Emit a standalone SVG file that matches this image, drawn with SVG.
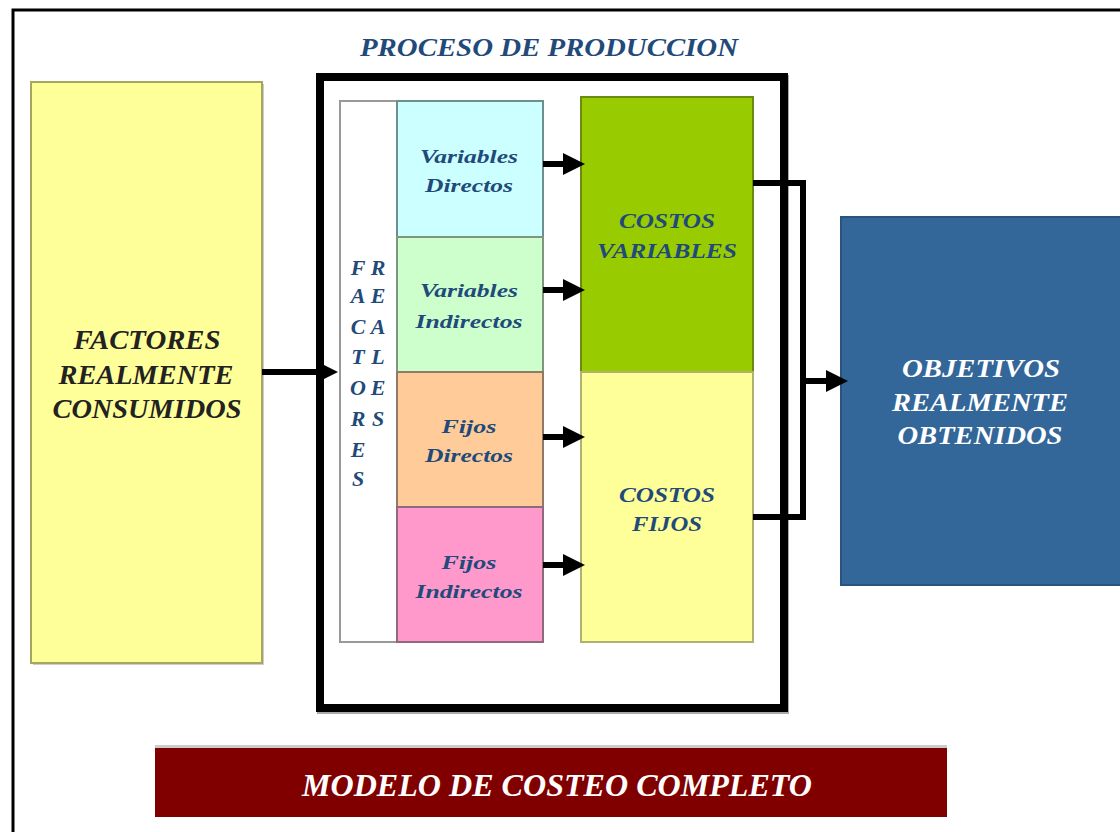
<svg xmlns="http://www.w3.org/2000/svg" width="1120" height="832" viewBox="0 0 1120 832">
<defs>
<style>
.t{font-family:"Liberation Serif","Times New Roman",serif;font-style:italic;font-weight:bold;text-anchor:middle}
.blue{fill:#1F4A7A}
.dark{fill:#222222}
.white{fill:#FFFFFF}
.conn{stroke:#000;stroke-width:6;fill:none}
.sm{font-size:19px}
.vl{font-size:22px}
</style>
<marker id="ah" markerUnits="userSpaceOnUse" markerWidth="24" markerHeight="24" refX="0" refY="11" orient="auto">
<path d="M0,0 L22,11 L0,22 z" fill="#000"/>
</marker>
</defs>
<rect x="0" y="0" width="1120" height="832" fill="#FFFFFF"/>
<g id="frame">
<path d="M13,832 V10 H1120" fill="none" stroke="#000" stroke-width="3"/>
</g>
<g id="title">
<text class="t blue" x="549" y="56" font-size="25" textLength="378" lengthAdjust="spacingAndGlyphs">PROCESO DE PRODUCCION</text>
</g>
<g id="factores-consumidos">
<rect x="33" y="84" width="231" height="581" fill="#CCCCCC"/>
<rect x="31" y="82" width="231" height="581" fill="#FFFF99" stroke="#A6A65C" stroke-width="2"/>
<text class="t dark" x="147" y="349" font-size="27" textLength="147" lengthAdjust="spacingAndGlyphs">FACTORES</text>
<text class="t dark" x="146" y="384" font-size="27" textLength="175" lengthAdjust="spacingAndGlyphs">REALMENTE</text>
<text class="t dark" x="147" y="418" font-size="27" textLength="189" lengthAdjust="spacingAndGlyphs">CONSUMIDOS</text>
</g>
<g id="proceso">
<rect x="321" y="79" width="464" height="631" fill="none" stroke="#AAAAAA" stroke-width="8"/>
<rect x="320" y="77" width="464" height="631" fill="#FFFFFF" stroke="#000" stroke-width="8"/>
</g>
<g id="factores-reales">
<rect x="340" y="101" width="57" height="541" fill="#FFFFFF" stroke="#999999" stroke-width="2"/>
<text class="t blue vl" x="358" y="275">F</text><text class="t blue vl" x="378" y="275">R</text>
<text class="t blue vl" x="358" y="303">A</text><text class="t blue vl" x="378" y="303">E</text>
<text class="t blue vl" x="358" y="334">C</text><text class="t blue vl" x="378" y="334">A</text>
<text class="t blue vl" x="358" y="364">T</text><text class="t blue vl" x="378" y="364">L</text>
<text class="t blue vl" x="358" y="395">O</text><text class="t blue vl" x="378" y="395">E</text>
<text class="t blue vl" x="358" y="426">R</text><text class="t blue vl" x="378" y="426">S</text>
<text class="t blue vl" x="358" y="457">E</text>
<text class="t blue vl" x="358" y="486">S</text>
</g>
<g id="variables-directos">
<rect x="397" y="101" width="146" height="136" fill="#CCFFFF" stroke="#6F8F8F" stroke-width="2"/>
<text class="t blue sm" x="469" y="163" textLength="98" lengthAdjust="spacingAndGlyphs">Variables</text>
<text class="t blue sm" x="469" y="192" textLength="88" lengthAdjust="spacingAndGlyphs">Directos</text>
</g>
<g id="variables-indirectos">
<rect x="397" y="237" width="146" height="135" fill="#CCFFCC" stroke="#7F957F" stroke-width="2"/>
<text class="t blue sm" x="469" y="297" textLength="98" lengthAdjust="spacingAndGlyphs">Variables</text>
<text class="t blue sm" x="469" y="328" textLength="107" lengthAdjust="spacingAndGlyphs">Indirectos</text>
</g>
<g id="fijos-directos">
<rect x="397" y="372" width="146" height="135" fill="#FFCC99" stroke="#8F7A6A" stroke-width="2"/>
<text class="t blue sm" x="469" y="433" textLength="55" lengthAdjust="spacingAndGlyphs">Fijos</text>
<text class="t blue sm" x="469" y="462" textLength="88" lengthAdjust="spacingAndGlyphs">Directos</text>
</g>
<g id="fijos-indirectos">
<rect x="397" y="507" width="146" height="135" fill="#FF99CC" stroke="#8F6A7F" stroke-width="2"/>
<text class="t blue sm" x="469" y="569" textLength="55" lengthAdjust="spacingAndGlyphs">Fijos</text>
<text class="t blue sm" x="469" y="598" textLength="107" lengthAdjust="spacingAndGlyphs">Indirectos</text>
</g>
<g id="costos-variables">
<rect x="581" y="97" width="172" height="275" fill="#99CC00" stroke="#6B8A10" stroke-width="2"/>
<text class="t blue" x="667" y="228" font-size="22" textLength="96" lengthAdjust="spacingAndGlyphs">COSTOS</text>
<text class="t blue" x="667" y="258" font-size="22" textLength="140" lengthAdjust="spacingAndGlyphs">VARIABLES</text>
</g>
<g id="costos-fijos">
<rect x="581" y="372" width="172" height="270" fill="#FFFF99" stroke="#B0B070" stroke-width="2"/>
<text class="t blue" x="667" y="502" font-size="22" textLength="96" lengthAdjust="spacingAndGlyphs">COSTOS</text>
<text class="t blue" x="667" y="531" font-size="22" textLength="70" lengthAdjust="spacingAndGlyphs">FIJOS</text>
</g>
<g id="objetivos">
<rect x="841" y="217" width="290" height="368" fill="#336699" stroke="#2A5480" stroke-width="2"/>
<text class="t white" x="981" y="377" font-size="26" textLength="158" lengthAdjust="spacingAndGlyphs">OBJETIVOS</text>
<text class="t white" x="980" y="411" font-size="26" textLength="176" lengthAdjust="spacingAndGlyphs">REALMENTE</text>
<text class="t white" x="980" y="444" font-size="26" textLength="165" lengthAdjust="spacingAndGlyphs">OBTENIDOS</text>
</g>
<g id="modelo">
<rect x="155" y="745" width="792" height="72" fill="#C8CCCC"/>
<rect x="155" y="748" width="792" height="69" fill="#800000"/>
<text class="t white" x="557" y="796" font-size="32" textLength="510" lengthAdjust="spacingAndGlyphs">MODELO DE COSTEO COMPLETO</text>
</g>
<g id="connectors">
<line class="conn" x1="262" y1="372" x2="316" y2="372" marker-end="url(#ah)"/>
<line class="conn" x1="543" y1="164" x2="563" y2="164" marker-end="url(#ah)"/>
<line class="conn" x1="543" y1="290" x2="563" y2="290" marker-end="url(#ah)"/>
<line class="conn" x1="543" y1="437" x2="563" y2="437" marker-end="url(#ah)"/>
<line class="conn" x1="543" y1="565" x2="563" y2="565" marker-end="url(#ah)"/>
<path class="conn" d="M753,183 H803 V517 H753"/>
<line class="conn" x1="803" y1="381" x2="826" y2="381" marker-end="url(#ah)"/>
</g>
</svg>
